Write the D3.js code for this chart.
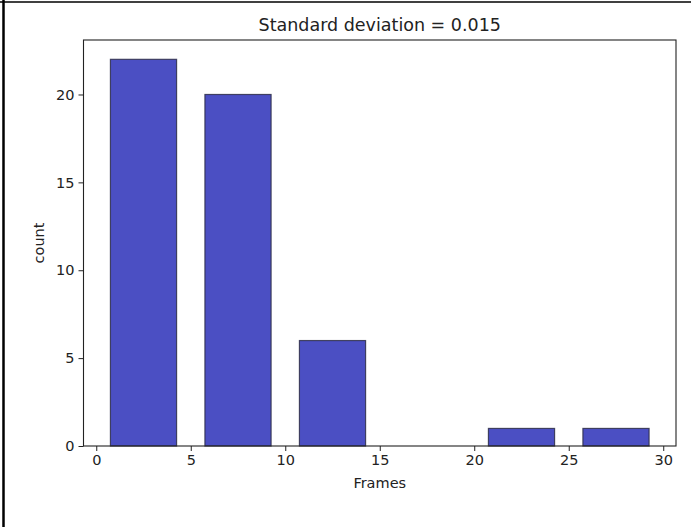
<!DOCTYPE html>
<html>
<head>
<meta charset="utf-8">
<script src="https://cdn.jsdelivr.net/npm/d3@7"></script>
<style>
  html, body { margin: 0; padding: 0; background: #fff; }
  svg { display: block; font-family: "DejaVu Sans", sans-serif; }
</style>
</head>
<body>
<svg id="chart" width="691" height="527"></svg>
<script>
// Histogram of frame counts: bin edges and per-bin counts
const binEdges = [0, 5, 10, 15, 20, 25, 30];
const counts = [22, 20, 6, 0, 1, 1];
const xTicks = [0, 5, 10, 15, 20, 25, 30];
const yTicks = [0, 5, 10, 15, 20];
const titleText = "Standard deviation = 0.015";
const xLabel = "Frames";
const yLabel = "count";

const W = 691, H = 527;
const plot = { left: 83.5, right: 676, top: 40, bottom: 446 };
const rwidth = 0.7;

const svg = d3.select("#chart");

// Outer figure frame (left and top edges)
svg.append("line").attr("x1", 0).attr("x2", W).attr("y1", 2).attr("y2", 2)
  .attr("stroke", "#000").attr("stroke-width", 1.5);
svg.append("line").attr("x1", 3.5).attr("x2", 3.5).attr("y1", 0).attr("y2", H)
  .attr("stroke", "#000").attr("stroke-width", 2.5);

const x = d3.scaleLinear().domain([-0.675, 30.675]).range([plot.left, plot.right]);
const y = d3.scaleLinear().domain([0, 23.1]).range([plot.bottom, plot.top]);

const bins = counts.map((c, i) => {
  const x0 = binEdges[i], x1 = binEdges[i + 1];
  const w = (x1 - x0) * rwidth;
  const mid = (x0 + x1) / 2;
  return { a: mid - w / 2, b: mid + w / 2, c };
});

svg.append("g").selectAll("rect").data(bins).join("rect")
  .attr("x", d => x(d.a))
  .attr("width", d => x(d.b) - x(d.a))
  .attr("y", d => y(d.c) - (d.c === 0 ? 1 : 0))
  .attr("height", d => y(0) - y(d.c))
  .attr("fill", "#4b4fc3")
  .attr("stroke", d => d.c === 0 ? "#bbb" : "#2e2e4a")
  .attr("stroke-opacity", 0.85)
  .attr("stroke-width", 1.2);

// Axes
const xAxis = d3.axisBottom(x).tickValues(xTicks).tickSize(5).tickPadding(4).tickFormat(d3.format("d"));
const yAxis = d3.axisLeft(y).tickValues(yTicks).tickSize(5).tickPadding(4).tickFormat(d3.format("d"));

const gx = svg.append("g").attr("transform", `translate(0,${plot.bottom})`).call(xAxis);
const gy = svg.append("g").attr("transform", `translate(${plot.left},0)`).call(yAxis);
[gx, gy].forEach(g => {
  g.select(".domain").remove();
  g.selectAll("text").attr("font-size", 14.5).attr("fill", "#222").attr("font-family", "DejaVu Sans, sans-serif");
  g.selectAll("line").attr("stroke", "#222");
});

// Spines
svg.append("rect")
  .attr("x", plot.left).attr("y", plot.top)
  .attr("width", plot.right - plot.left).attr("height", plot.bottom - plot.top)
  .attr("fill", "none").attr("stroke", "#222").attr("stroke-width", 1.1);

// Title and axis labels
svg.append("text").attr("x", (plot.left + plot.right) / 2).attr("y", 31)
  .attr("text-anchor", "middle").attr("font-size", 17.5).attr("fill", "#222").text(titleText);
svg.append("text").attr("x", (plot.left + plot.right) / 2).attr("y", 488)
  .attr("text-anchor", "middle").attr("font-size", 14.5).attr("fill", "#222").text(xLabel);
svg.append("text")
  .attr("transform", `translate(44,${(plot.top + plot.bottom) / 2}) rotate(-90)`)
  .attr("text-anchor", "middle").attr("font-size", 14.5).attr("fill", "#222").text(yLabel);
</script>
</body>
</html>
